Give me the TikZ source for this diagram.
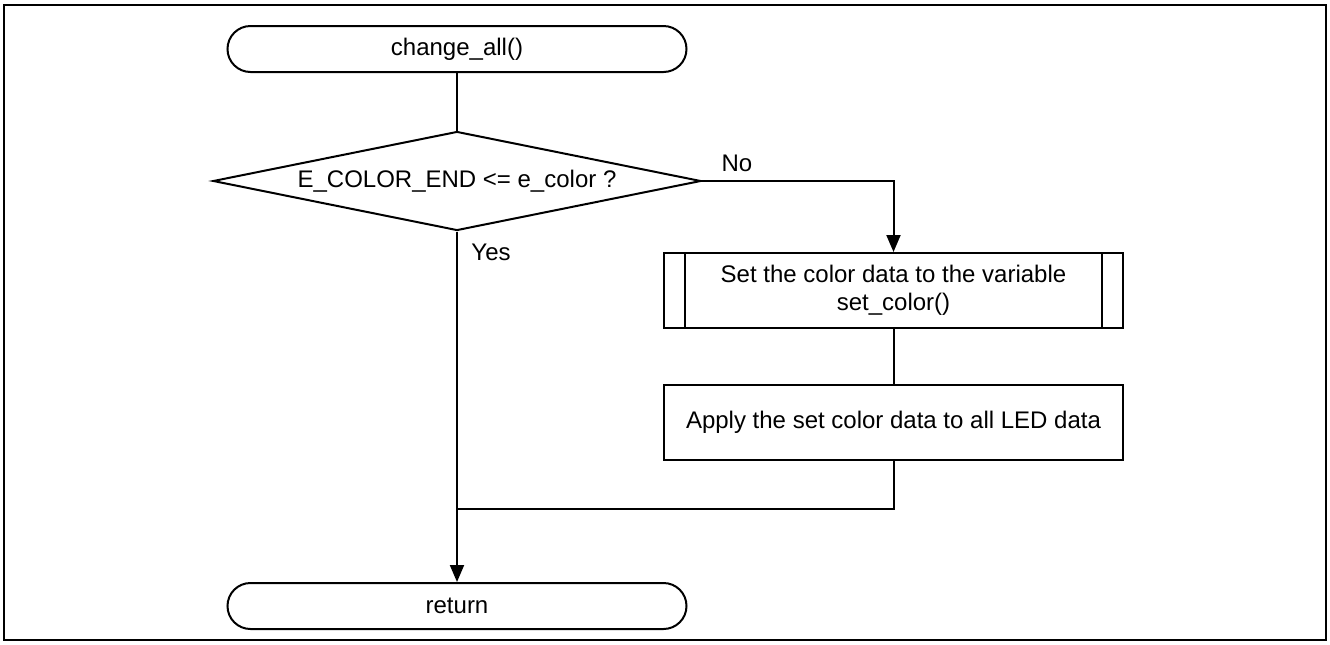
\documentclass[tikz,border=0pt]{standalone}
\usepackage{fontspec}
\setmainfont{Liberation Sans}
\usetikzlibrary{arrows.meta,shapes.geometric}
\tikzset{
	flowline/.style={line width=1pt},
	flowarrow/.style={line width=1pt, -{Triangle[length=8.5pt,width=7pt]}},
	termbox/.style={draw, line width=1pt, rectangle, rounded corners=11.5pt, minimum width=229.5pt, minimum height=23pt, inner sep=0pt},
	decbox/.style={draw, line width=1pt, diamond, shape aspect=4.93, minimum width=244pt, minimum height=49.5pt, inner sep=0pt},
	procbox/.style={draw, line width=1pt, rectangle, minimum width=229.5pt, minimum height=37.5pt, inner sep=0pt, align=center},
}

\begin{document}
\begin{tikzpicture}[x=0.5pt, y=-0.5pt, font=\fontsize{12}{14}\selectfont]
		%%%%% START %%%%%
		
		\useasboundingbox (0, 0) rectangle (1330, 644);
		\draw[line width=1.1pt] (4, 5) rectangle (1326, 640);
		
		\node[termbox] (start) at (457, 49) {change\_all()};
		\node[decbox] (dec) at (457, 181) {E\_COLOR\_END <= e\_color ?};
		\node[procbox] (setcol) at (893.5, 290.5) {Set the color data to the variable\\set\_color()};
		\node[procbox] (apply) at (893.5, 422) {Apply the set color data to all LED data};
		\node[termbox] (ret) at (457, 606) {return};
		
		% subroutine bars
		\draw[flowline] ([xshift=11pt]setcol.north west) -- ([xshift=11pt]setcol.south west);
		\draw[flowline] ([xshift=-11pt]setcol.north east) -- ([xshift=-11pt]setcol.south east);
		
		\node (no) at (737, 163) {No};
		\node (yes) at (491, 252) {Yes};
		
		\coordinate (mrg) at (457, 509);
		
		\draw[flowline] (start) -- (dec);
		\draw[flowarrow] (dec.east) -| (setcol.north);
		\draw[flowline] (setcol) -- (apply);
		\draw[flowline] (apply.south) |- (mrg);
		\draw[flowarrow] (dec.south) -- (ret.north);
		
		%%%%% END %%%%%
	\end{tikzpicture}
\end{document}
